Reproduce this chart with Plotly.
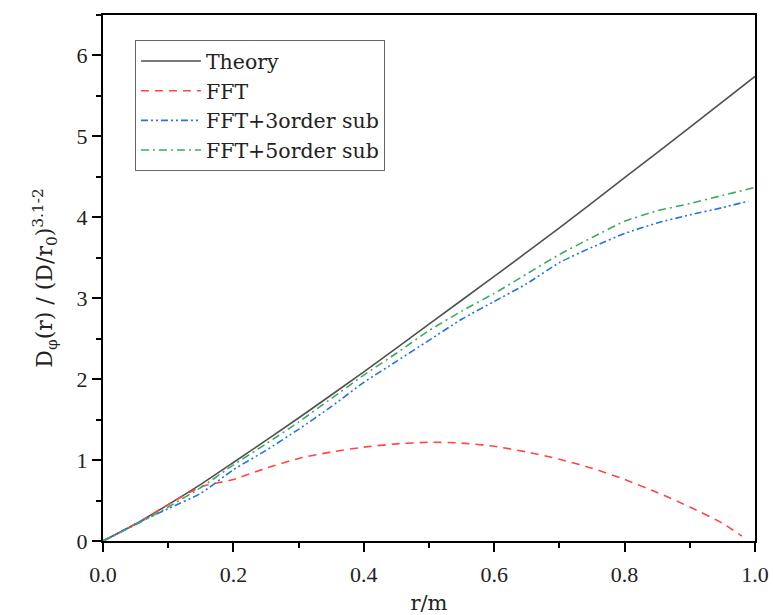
import plotly.graph_objects as go

r_theory = [0.0, 0.05, 0.1, 0.15, 0.2, 0.3, 0.4, 0.5, 0.6, 0.7, 0.8, 0.9, 1.0]
d_theory = [0.0, 0.21, 0.45, 0.70, 0.97, 1.52, 2.09, 2.68, 3.27, 3.87, 4.49, 5.11, 5.74]

r_fft = [0.0, 0.05, 0.1, 0.15, 0.2, 0.25, 0.3, 0.35, 0.4, 0.45, 0.5, 0.55, 0.6, 0.65, 0.7, 0.75, 0.8, 0.85, 0.9, 0.95, 0.98]
d_fft = [0.0, 0.21, 0.45, 0.67, 0.76, 0.90, 1.02, 1.10, 1.16, 1.20, 1.22, 1.21, 1.17, 1.10, 1.01, 0.90, 0.76, 0.60, 0.42, 0.22, 0.06]

r_sub3 = [0.0, 0.05, 0.1, 0.15, 0.2, 0.25, 0.3, 0.35, 0.4, 0.45, 0.5, 0.55, 0.6, 0.65, 0.7, 0.75, 0.8, 0.85, 0.9, 0.95, 0.99]
d_sub3 = [0.0, 0.21, 0.40, 0.59, 0.88, 1.12, 1.38, 1.66, 1.96, 2.22, 2.48, 2.74, 2.96, 3.18, 3.44, 3.63, 3.80, 3.93, 4.03, 4.12, 4.20]

r_sub5 = [0.0, 0.05, 0.1, 0.15, 0.2, 0.25, 0.3, 0.35, 0.4, 0.45, 0.5, 0.55, 0.6, 0.65, 0.7, 0.75, 0.8, 0.85, 0.9, 0.95, 1.0]
d_sub5 = [0.0, 0.20, 0.42, 0.66, 0.94, 1.20, 1.47, 1.76, 2.05, 2.32, 2.60, 2.84, 3.06, 3.30, 3.54, 3.75, 3.95, 4.08, 4.17, 4.27, 4.37]

names = ["Theory", "FFT", "FFT+3order sub", "FFT+5order sub"]
colors = ["#505050", "#FF4545", "#2472E8", "#3BAA62"]
dashes = ["solid", "8px,6px", "7px,3px,2px,3px,2px,3px", "8px,4px,2px,4px"]

fig = go.Figure()
for x, y, n, c, d in zip([r_theory, r_fft, r_sub3, r_sub5],
                         [d_theory, d_fft, d_sub3, d_sub5], names, colors, dashes):
    fig.add_trace(go.Scatter(x=x, y=y, mode="lines", name=n,
                             line=dict(color=c, width=1.6, dash=d, shape="spline", smoothing=0.6)))

tick_family = "Liberation Serif, DejaVu Serif, serif"
text_family = "DejaVu Serif, Liberation Serif, serif"
axis_common = dict(showline=True, linecolor="black", linewidth=2, mirror=True,
                   showgrid=False, zeroline=False, ticks="outside", ticklen=9,
                   tickwidth=2, tickcolor="black", automargin=False,
                   tickfont=dict(family=tick_family, size=22, color="#222"))

fig.update_layout(
    width=773, height=615,
    margin=dict(l=103, r=18, t=15, b=74),
    paper_bgcolor="white", plot_bgcolor="white",
    font=dict(family=text_family, color="#222"),
    showlegend=True,
    legend=dict(x=0.049, y=0.952, xanchor="left", yanchor="top",
                bgcolor="white", bordercolor="#666", borderwidth=1,
                font=dict(family=text_family, size=20.5, color="#222"),
                tracegroupgap=0, itemwidth=60),
)
fig.update_xaxes(range=[0, 1.0], dtick=0.2, tickformat=".1f",
                 minor=dict(ticks="outside", dtick=0.1, ticklen=5, tickwidth=2, tickcolor="black"),
                 ticklabelstandoff=4,
                 title=dict(text="r/m", font=dict(family=text_family, size=21), standoff=10),
                 **axis_common)
fig.update_yaxes(range=[0, 6.5], dtick=1,
                 minor=dict(ticks="outside", dtick=0.5, ticklen=5, tickwidth=2, tickcolor="black"),
                 title=dict(text="D<sub>φ</sub>(r) / (D/r<sub>0</sub>)<sup>3.1-2</sup>",
                            font=dict(family=text_family, size=22), standoff=18),
                 **axis_common)

fig.write_html("out.html")
